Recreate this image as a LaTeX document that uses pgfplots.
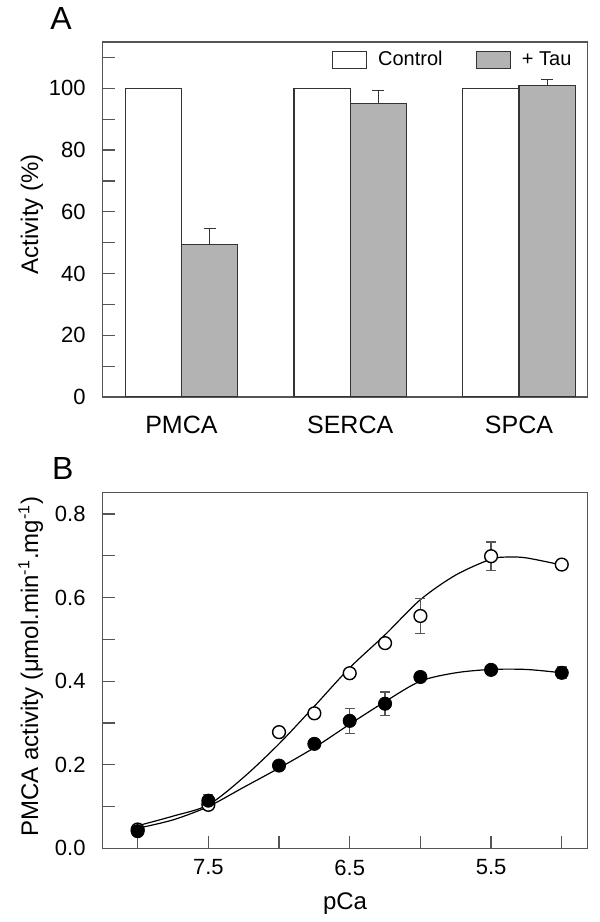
\documentclass[border=0pt]{standalone}
\usepackage{fontspec}
\setmainfont{Liberation Sans}
\usepackage{pgfplots}
\pgfplotsset{compat=1.18}
\definecolor{framec}{HTML}{555555}
\definecolor{barfill}{HTML}{B3B3B3}
\pgfplotsset{
  mystyle/.style={
    scale only axis,
    axis line style={framec, line width=0.6pt},
    tick style={framec, line width=0.6pt},
    major tick length=6pt, minor tick length=6pt,
    tick align=inside, tick pos=left,
    /pgf/number format/assume math mode=true,
    tick label style={font=\fontsize{11}{13}\selectfont, black},
    label style={font=\fontsize{12}{14}\selectfont},
    yticklabel style={xshift=-5pt},
  }
}
\begin{document}
\begin{tikzpicture}
\useasboundingbox (0,0) rectangle (300pt,461pt);
\node[anchor=base west, inner sep=0pt, font=\fontsize{16}{16}\selectfont] at (25pt,446.35pt) {A};
\node[anchor=base west, inner sep=0pt, font=\fontsize{16}{16}\selectfont] at (25.8pt,221.35pt) {B};

\begin{axis}[mystyle, at={(51.3pt,262.5pt)}, anchor=south west,
  width=242.45pt, height=177.5pt,
  ybar, bar width=0.3333, bar shift=0pt,
  xmin=-0.467, xmax=2.406, ymin=0, ymax=115,
  xtick={0,1,2}, xticklabels={PMCA,SERCA,SPCA},
  xtick style={draw=none},
  xticklabel style={font=\fontsize{12.5}{14}\selectfont, yshift=0pt},
  ytick={0,20,40,60,80,100}, minor ytick={10,30,50,70,90,110},
  ylabel={Activity (\%)},
  ylabel style={at={(axis description cs:-0.1332,0.515)}, anchor=base},
  legend columns=2,
  legend style={draw=none, fill=none, at={(axis description cs:0.4719,0.9755)},
    anchor=north west, inner sep=0pt, font=\fontsize{10}{12}\selectfont,
    nodes={inner sep=0pt},
    /tikz/every even column/.append style={column sep=16.5pt}},
  legend image code/.code={\draw[#1] (0pt,-4.15pt) rectangle (17pt,4.15pt); \path[draw=none, fill=none] (0pt,0pt) rectangle (22.85pt,0pt);},
]
\addplot[draw=black!80, fill=white, line width=0.6pt] coordinates {(-0.16667,100) (0.83333,100) (1.83333,100)};
\addlegendentry{Control}
\addplot[draw=black!80, fill=barfill, line width=0.6pt,
  error bars/.cd, y dir=plus, y explicit,
  error bar style={black!80, line width=0.6pt},
  error mark options={rotate=90, mark size=3pt, black!80, line width=0.6pt}]
  coordinates {(0.16667,49.5) +- (0,5.0) (1.16667,95.2) +- (0,4.0) (2.16667,101.0) +- (0,1.8)};
\addlegendentry{+ Tau}
\end{axis}

\begin{axis}[mystyle, at={(51.3pt,36.85pt)}, anchor=south west,
  width=242.45pt, height=178pt,
  x dir=reverse, xmin=4.818, xmax=8.248, ymin=0, ymax=0.852,
  xtick={7.5,6.5,5.5}, minor xtick={8,7,6,5},
  ytick={0,0.2,0.4,0.6,0.8}, minor ytick={0.1,0.3,0.5,0.7},
  xticklabel style={yshift=-2.2pt, /pgf/number format/fixed, /pgf/number format/precision=1},
  yticklabel style={/pgf/number format/fixed, /pgf/number format/fixed zerofill, /pgf/number format/precision=1},
  xlabel={pCa},
  xlabel style={at={(axis description cs:0.5,0)}, anchor=base, yshift=-30.5pt},
  ylabel={PMCA activity (μmol.min\textsuperscript{-1}.mg\textsuperscript{-1})},
  ylabel style={at={(axis description cs:-0.1332,0.51)}, anchor=base},
]
% fitted curve, control
\addplot[black, line width=0.6pt, smooth, no marks] coordinates {
 (8.0,0.054) (7.75,0.077) (7.5,0.104) (7.25,0.170) (7.0,0.250) (6.75,0.340)
 (6.5,0.432) (6.25,0.511) (6.0,0.595) (5.75,0.654) (5.5,0.692) (5.375,0.697)
 (5.25,0.695) (5.0,0.678)};
% fitted curve, + Tau
\addplot[black, line width=0.6pt, smooth, no marks] coordinates {
 (8.0,0.048) (7.75,0.068) (7.5,0.100) (7.25,0.146) (7.0,0.192) (6.75,0.241)
 (6.5,0.297) (6.25,0.351) (6.0,0.400) (5.75,0.420) (5.5,0.428) (5.25,0.428)
 (5.0,0.420)};
% control data
\addplot[only marks, mark=*, mark size=3.2pt, mark options={draw=black, fill=white, line width=0.7pt},
  error bars/.cd, y dir=both, y explicit,
  error bar style={framec, line width=0.6pt},
  error mark options={rotate=90, mark size=2.5pt, framec, line width=0.6pt}]
  coordinates {
 (8.0,0.045) +- (0,0.005) (7.5,0.104) +- (0,0.006) (7.0,0.278) +- (0,0.006)
 (6.75,0.323) +- (0,0.006) (6.5,0.419) +- (0,0.006) (6.25,0.491) +- (0,0.006)
 (6.0,0.556) +- (0,0.042) (5.5,0.699) +- (0,0.034) (5.0,0.679) +- (0,0.006)};
% + Tau data
\addplot[only marks, mark=*, mark size=3.3pt, mark options={draw=black, fill=black},
  error bars/.cd, y dir=both, y explicit,
  error bar style={framec, line width=0.6pt},
  error mark options={rotate=90, mark size=2.5pt, framec, line width=0.6pt}]
  coordinates {
 (8.0,0.041) +- (0,0.006) (7.5,0.114) +- (0,0.014) (7.0,0.198) +- (0,0.008)
 (6.75,0.250) +- (0,0.008) (6.5,0.305) +- (0,0.030) (6.25,0.346) +- (0,0.028)
 (6.0,0.410) +- (0,0.008) (5.5,0.427) +- (0,0.008) (5.0,0.420) +- (0,0.014)};
\end{axis}
\end{tikzpicture}
\end{document}
